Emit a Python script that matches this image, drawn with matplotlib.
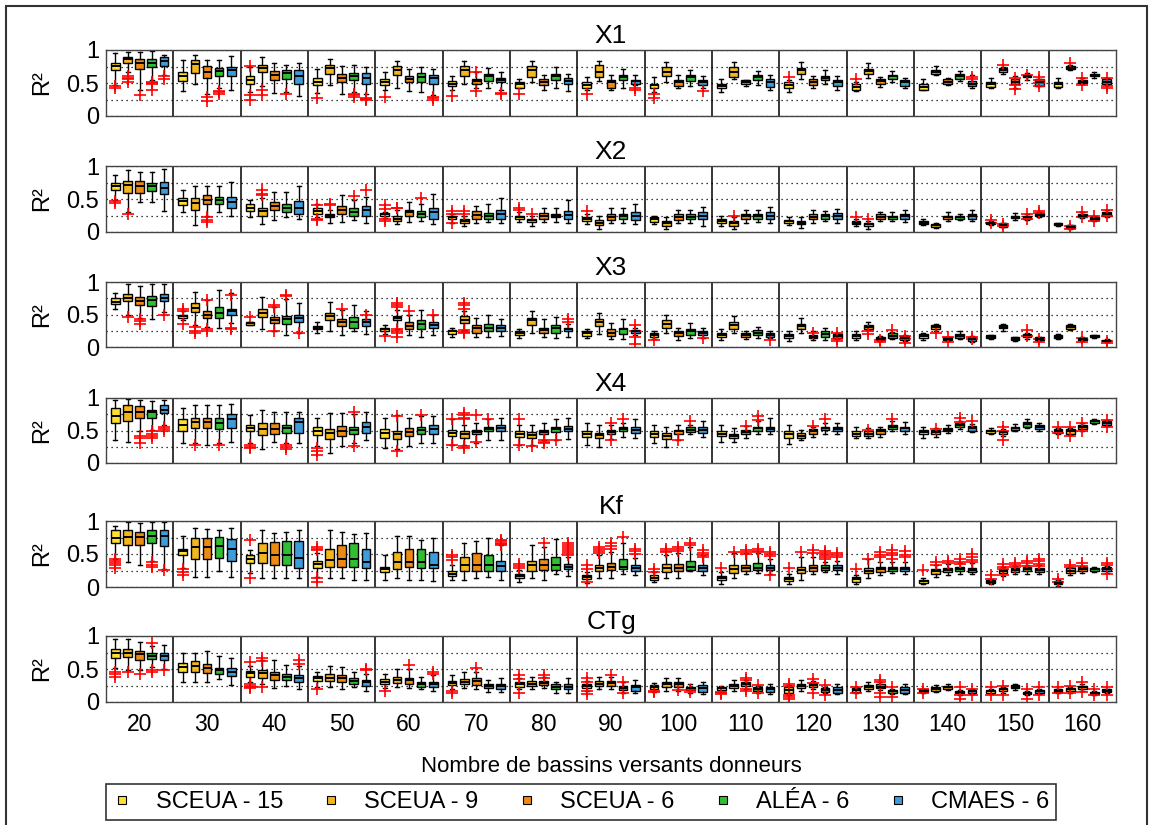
import matplotlib
matplotlib.use("Agg")
import matplotlib.pyplot as plt
from matplotlib.lines import Line2D
from matplotlib.patches import Rectangle

plt.rcParams['font.family'] = ['Liberation Sans', 'DejaVu Sans']

groups = [20, 30, 40, 50, 60, 70, 80, 90, 100, 110, 120, 130, 140, 150, 160]
methods = ['SCEUA - 15', 'SCEUA - 9', 'SCEUA - 6', 'ALÉA - 6', 'CMAES - 6']
colors = ['#FFE02E', '#F3B71E', '#EC8A14', '#30BF33', '#3F9CDA']
params = ['X1', 'X2', 'X3', 'X4', 'Kf', 'CTg']

# one row per group, one tuple per method: (whisker low, q1, median, q3, whisker high)
X1_boxes = [
    [(0.47,0.70,0.76,0.81,0.95), (0.67,0.81,0.86,0.90,0.97), (0.39,0.71,0.80,0.86,0.97), (0.55,0.75,0.81,0.86,0.99), (0.62,0.76,0.83,0.89,0.92)],
    [(0.38,0.53,0.60,0.66,0.85), (0.48,0.65,0.79,0.85,0.93), (0.33,0.57,0.67,0.76,0.85), (0.42,0.60,0.68,0.73,0.85), (0.39,0.60,0.69,0.75,0.91)],
    [(0.37,0.49,0.55,0.60,0.75), (0.45,0.66,0.72,0.78,0.89), (0.35,0.55,0.62,0.68,0.81), (0.37,0.56,0.65,0.69,0.78), (0.30,0.49,0.61,0.69,0.81)],
    [(0.35,0.47,0.52,0.57,0.71), (0.47,0.64,0.72,0.78,0.87), (0.34,0.52,0.58,0.64,0.76), (0.37,0.54,0.60,0.65,0.78), (0.34,0.49,0.58,0.65,0.74)],
    [(0.39,0.47,0.51,0.56,0.67), (0.42,0.62,0.70,0.76,0.84), (0.38,0.51,0.56,0.60,0.71), (0.36,0.52,0.59,0.65,0.75), (0.32,0.49,0.57,0.62,0.71)],
    [(0.39,0.45,0.49,0.53,0.61), (0.48,0.61,0.70,0.76,0.84), (0.42,0.48,0.53,0.56,0.67), (0.42,0.53,0.60,0.64,0.72), (0.40,0.51,0.55,0.58,0.67)],
    [(0.43,0.43,0.48,0.52,0.56), (0.51,0.59,0.70,0.76,0.83), (0.40,0.47,0.52,0.56,0.62), (0.42,0.55,0.60,0.64,0.75), (0.38,0.48,0.53,0.57,0.64)],
    [(0.39,0.43,0.47,0.51,0.59), (0.53,0.59,0.67,0.77,0.84), (0.40,0.43,0.51,0.55,0.62), (0.43,0.55,0.59,0.62,0.71), (0.47,0.49,0.53,0.55,0.62)],
    [(0.37,0.43,0.47,0.49,0.59), (0.52,0.60,0.67,0.75,0.82), (0.42,0.45,0.52,0.55,0.62), (0.45,0.53,0.59,0.62,0.70), (0.43,0.47,0.52,0.55,0.60)],
    [(0.37,0.43,0.46,0.49,0.56), (0.56,0.59,0.67,0.75,0.82), (0.45,0.48,0.51,0.54,0.55), (0.47,0.54,0.59,0.62,0.68), (0.39,0.44,0.52,0.56,0.62)],
    [(0.37,0.43,0.47,0.51,0.55), (0.56,0.64,0.69,0.73,0.82), (0.43,0.47,0.52,0.56,0.61), (0.49,0.55,0.57,0.60,0.70), (0.39,0.45,0.51,0.55,0.61)],
    [(0.38,0.40,0.44,0.48,0.52), (0.57,0.64,0.68,0.71,0.81), (0.44,0.48,0.53,0.56,0.59), (0.51,0.56,0.60,0.62,0.68), (0.42,0.45,0.51,0.54,0.58)],
    [(0.39,0.40,0.44,0.48,0.56), (0.62,0.64,0.67,0.70,0.76), (0.47,0.48,0.52,0.56,0.57), (0.53,0.56,0.60,0.63,0.68), (0.43,0.45,0.49,0.53,0.62)],
    [(0.42,0.44,0.48,0.52,0.57), (0.64,0.67,0.70,0.72,0.75), (0.43,0.48,0.52,0.56,0.60), (0.55,0.59,0.61,0.62,0.65), (0.45,0.45,0.51,0.56,0.56)],
    [(0.42,0.44,0.48,0.52,0.57), (0.69,0.71,0.73,0.76,0.77), (0.48,0.50,0.52,0.55,0.57), (0.57,0.60,0.62,0.64,0.66), (0.47,0.49,0.52,0.56,0.58)],
]
X2_boxes = [
    [(0.48,0.63,0.69,0.75,0.86), (0.30,0.59,0.71,0.77,0.94), (0.46,0.59,0.69,0.77,0.91), (0.46,0.62,0.69,0.74,0.91), (0.32,0.58,0.66,0.76,0.95)],
    [(0.31,0.41,0.47,0.52,0.63), (0.10,0.34,0.44,0.51,0.70), (0.25,0.42,0.49,0.56,0.69), (0.30,0.42,0.48,0.53,0.69), (0.25,0.37,0.46,0.53,0.76)],
    [(0.23,0.32,0.37,0.42,0.48), (0.12,0.25,0.32,0.36,0.51), (0.18,0.33,0.40,0.46,0.61), (0.23,0.30,0.37,0.42,0.61), (0.19,0.28,0.36,0.47,0.70)],
    [(0.23,0.28,0.32,0.36,0.43), (0.14,0.22,0.24,0.27,0.33), (0.15,0.28,0.34,0.39,0.56), (0.18,0.25,0.31,0.36,0.48), (0.14,0.25,0.33,0.40,0.53)],
    [(0.21,0.25,0.27,0.29,0.31), (0.12,0.17,0.20,0.24,0.34), (0.15,0.24,0.30,0.34,0.46), (0.17,0.23,0.28,0.32,0.42), (0.12,0.20,0.30,0.37,0.57)],
    [(0.14,0.20,0.23,0.24,0.28), (0.09,0.14,0.17,0.20,0.25), (0.14,0.20,0.26,0.32,0.39), (0.15,0.20,0.25,0.29,0.43), (0.14,0.20,0.28,0.34,0.52)],
    [(0.15,0.19,0.22,0.25,0.30), (0.09,0.15,0.18,0.20,0.25), (0.15,0.20,0.25,0.29,0.37), (0.15,0.22,0.25,0.28,0.37), (0.14,0.20,0.26,0.32,0.48)],
    [(0.12,0.16,0.19,0.23,0.28), (0.05,0.10,0.14,0.18,0.25), (0.14,0.18,0.23,0.28,0.36), (0.14,0.19,0.24,0.28,0.36), (0.12,0.18,0.24,0.30,0.42)],
    [(0.12,0.15,0.19,0.22,0.25), (0.05,0.09,0.13,0.17,0.23), (0.14,0.18,0.23,0.28,0.34), (0.14,0.19,0.23,0.27,0.34), (0.09,0.19,0.24,0.30,0.38)],
    [(0.09,0.14,0.17,0.19,0.25), (0.05,0.09,0.14,0.17,0.22), (0.14,0.19,0.24,0.28,0.33), (0.15,0.20,0.24,0.27,0.34), (0.13,0.19,0.25,0.30,0.38)],
    [(0.11,0.14,0.16,0.18,0.23), (0.06,0.12,0.14,0.17,0.22), (0.14,0.19,0.23,0.28,0.33), (0.17,0.20,0.24,0.27,0.32), (0.14,0.20,0.25,0.29,0.35)],
    [(0.09,0.12,0.14,0.16,0.20), (0.05,0.09,0.12,0.14,0.17), (0.16,0.19,0.23,0.27,0.30), (0.16,0.20,0.23,0.25,0.30), (0.15,0.20,0.25,0.28,0.34)],
    [(0.10,0.12,0.14,0.16,0.19), (0.06,0.08,0.10,0.12,0.14), (0.17,0.19,0.23,0.25,0.30), (0.18,0.20,0.23,0.25,0.28), (0.17,0.20,0.25,0.28,0.33)],
    [(0.11,0.12,0.13,0.15,0.16), (0.07,0.08,0.10,0.13,0.14), (0.18,0.21,0.23,0.25,0.29), (0.18,0.19,0.22,0.25,0.27), (0.22,0.24,0.26,0.29,0.31)],
    [(0.09,0.10,0.11,0.13,0.14), (0.05,0.06,0.08,0.10,0.11), (0.21,0.23,0.25,0.28,0.30), (0.17,0.18,0.20,0.22,0.24), (0.23,0.25,0.28,0.31,0.33)],
]
X3_boxes = [
    [(0.58,0.66,0.70,0.75,0.83), (0.49,0.71,0.76,0.81,0.97), (0.44,0.64,0.71,0.77,0.94), (0.43,0.63,0.72,0.79,0.97), (0.54,0.71,0.76,0.81,0.97)],
    [(0.41,0.44,0.47,0.49,0.55), (0.34,0.54,0.60,0.67,0.85), (0.31,0.44,0.50,0.55,0.72), (0.29,0.44,0.52,0.62,0.87), (0.37,0.49,0.55,0.59,0.83)],
    [(0.34,0.34,0.37,0.39,0.39), (0.27,0.46,0.53,0.58,0.77), (0.24,0.37,0.42,0.46,0.62), (0.19,0.35,0.43,0.48,0.74), (0.21,0.38,0.44,0.49,0.67)],
    [(0.22,0.27,0.30,0.33,0.39), (0.25,0.42,0.48,0.53,0.70), (0.19,0.32,0.38,0.43,0.57), (0.24,0.29,0.38,0.46,0.64), (0.20,0.32,0.38,0.43,0.55)],
    [(0.20,0.25,0.28,0.30,0.34), (0.27,0.41,0.44,0.48,0.57), (0.19,0.27,0.33,0.38,0.49), (0.15,0.27,0.35,0.42,0.57), (0.19,0.29,0.34,0.38,0.49)],
    [(0.15,0.20,0.24,0.26,0.30), (0.26,0.37,0.42,0.47,0.56), (0.16,0.22,0.29,0.34,0.44), (0.15,0.24,0.30,0.36,0.50), (0.17,0.24,0.30,0.34,0.43)],
    [(0.14,0.19,0.21,0.24,0.28), (0.22,0.34,0.41,0.44,0.56), (0.16,0.21,0.26,0.30,0.43), (0.14,0.22,0.30,0.34,0.46), (0.16,0.24,0.28,0.30,0.36)],
    [(0.14,0.17,0.21,0.24,0.28), (0.20,0.32,0.38,0.43,0.52), (0.12,0.17,0.22,0.27,0.37), (0.12,0.20,0.27,0.30,0.43), (0.18,0.21,0.24,0.26,0.30)],
    [(0.12,0.16,0.19,0.21,0.24), (0.21,0.29,0.36,0.41,0.49), (0.11,0.17,0.21,0.25,0.29), (0.14,0.19,0.24,0.27,0.37), (0.14,0.19,0.22,0.25,0.29)],
    [(0.11,0.16,0.19,0.22,0.27), (0.21,0.27,0.34,0.39,0.48), (0.12,0.15,0.18,0.21,0.25), (0.14,0.19,0.22,0.26,0.31), (0.14,0.16,0.19,0.22,0.25)],
    [(0.10,0.14,0.17,0.20,0.24), (0.21,0.28,0.32,0.36,0.44), (0.11,0.14,0.16,0.19,0.24), (0.11,0.16,0.20,0.24,0.29), (0.12,0.14,0.17,0.20,0.22)],
    [(0.11,0.14,0.17,0.20,0.24), (0.26,0.28,0.31,0.34,0.39), (0.09,0.11,0.13,0.15,0.17), (0.12,0.14,0.17,0.21,0.23), (0.09,0.11,0.14,0.17,0.19)],
    [(0.11,0.14,0.17,0.20,0.21), (0.24,0.27,0.31,0.34,0.36), (0.09,0.11,0.13,0.15,0.16), (0.12,0.14,0.17,0.20,0.24), (0.08,0.10,0.13,0.16,0.17)],
    [(0.13,0.14,0.16,0.18,0.19), (0.24,0.29,0.31,0.34,0.36), (0.10,0.11,0.13,0.15,0.16), (0.13,0.15,0.18,0.20,0.21), (0.09,0.11,0.13,0.15,0.16)],
    [(0.13,0.14,0.16,0.19,0.20), (0.26,0.28,0.31,0.34,0.35), (0.10,0.11,0.12,0.14,0.15), (0.14,0.15,0.17,0.18,0.19), (0.08,0.09,0.10,0.11,0.12)],
]
X4_boxes = [
    [(0.36,0.62,0.72,0.85,0.97), (0.33,0.65,0.79,0.89,0.98), (0.49,0.69,0.79,0.87,0.97), (0.51,0.70,0.78,0.82,0.96), (0.59,0.77,0.82,0.89,0.97)],
    [(0.31,0.50,0.59,0.68,0.84), (0.31,0.54,0.63,0.70,0.89), (0.28,0.54,0.63,0.70,0.89), (0.31,0.53,0.62,0.70,0.89), (0.33,0.54,0.67,0.75,0.91)],
    [(0.31,0.49,0.54,0.59,0.74), (0.22,0.43,0.53,0.62,0.82), (0.32,0.44,0.53,0.62,0.79), (0.31,0.46,0.54,0.59,0.79), (0.31,0.46,0.63,0.69,0.79)],
    [(0.26,0.43,0.50,0.55,0.69), (0.16,0.37,0.46,0.53,0.77), (0.26,0.41,0.49,0.57,0.77), (0.31,0.45,0.51,0.56,0.75), (0.36,0.46,0.56,0.63,0.78)],
    [(0.23,0.38,0.46,0.52,0.69), (0.21,0.37,0.44,0.49,0.74), (0.26,0.41,0.48,0.54,0.70), (0.31,0.45,0.51,0.55,0.72), (0.31,0.45,0.53,0.59,0.73)],
    [(0.28,0.41,0.46,0.51,0.67), (0.28,0.38,0.44,0.49,0.59), (0.31,0.44,0.48,0.51,0.62), (0.36,0.49,0.53,0.56,0.68), (0.36,0.49,0.54,0.59,0.69)],
    [(0.28,0.40,0.45,0.49,0.59), (0.28,0.38,0.43,0.47,0.59), (0.36,0.45,0.48,0.51,0.62), (0.36,0.48,0.52,0.55,0.67), (0.37,0.49,0.53,0.57,0.69)],
    [(0.28,0.40,0.45,0.49,0.62), (0.25,0.38,0.43,0.46,0.59), (0.37,0.44,0.48,0.51,0.58), (0.40,0.49,0.52,0.56,0.62), (0.38,0.46,0.51,0.56,0.67)],
    [(0.31,0.40,0.45,0.49,0.58), (0.25,0.37,0.42,0.46,0.56), (0.36,0.44,0.49,0.51,0.59), (0.44,0.48,0.51,0.55,0.59), (0.40,0.46,0.51,0.56,0.64)],
    [(0.32,0.41,0.45,0.49,0.58), (0.32,0.38,0.42,0.45,0.54), (0.38,0.45,0.48,0.51,0.57), (0.44,0.49,0.54,0.56,0.64), (0.44,0.49,0.53,0.56,0.69)],
    [(0.29,0.38,0.44,0.49,0.59), (0.36,0.38,0.42,0.46,0.51), (0.40,0.45,0.49,0.52,0.56), (0.45,0.51,0.54,0.56,0.62), (0.44,0.49,0.52,0.56,0.62)],
    [(0.38,0.42,0.45,0.49,0.56), (0.38,0.41,0.45,0.49,0.54), (0.40,0.45,0.49,0.52,0.56), (0.49,0.53,0.56,0.59,0.64), (0.45,0.50,0.54,0.56,0.63)],
    [(0.38,0.45,0.48,0.51,0.56), (0.40,0.44,0.47,0.51,0.54), (0.46,0.49,0.51,0.54,0.59), (0.52,0.55,0.58,0.62,0.64), (0.47,0.50,0.54,0.57,0.60)],
    [(0.44,0.46,0.49,0.51,0.54), (0.42,0.45,0.47,0.50,0.53), (0.49,0.51,0.54,0.56,0.60), (0.54,0.56,0.60,0.63,0.68), (0.50,0.53,0.56,0.59,0.61)],
    [(0.44,0.46,0.49,0.52,0.54), (0.43,0.45,0.49,0.52,0.54), (0.50,0.53,0.55,0.59,0.61), (0.60,0.62,0.64,0.66,0.67), (0.57,0.59,0.62,0.64,0.66)],
]
Kf_boxes = [
    [(0.42,0.66,0.75,0.86,0.93), (0.38,0.64,0.76,0.86,0.98), (0.33,0.64,0.76,0.84,0.97), (0.40,0.67,0.78,0.86,0.98), (0.28,0.62,0.77,0.86,0.98)],
    [(0.29,0.48,0.54,0.58,0.78), (0.15,0.43,0.61,0.75,0.89), (0.15,0.43,0.61,0.75,0.88), (0.24,0.44,0.62,0.76,0.87), (0.15,0.40,0.57,0.73,0.89)],
    [(0.21,0.36,0.43,0.48,0.56), (0.13,0.36,0.51,0.66,0.87), (0.13,0.34,0.49,0.68,0.82), (0.14,0.34,0.49,0.69,0.83), (0.14,0.29,0.44,0.69,0.87)],
    [(0.15,0.29,0.35,0.39,0.51), (0.13,0.30,0.41,0.58,0.86), (0.13,0.30,0.42,0.63,0.83), (0.11,0.30,0.43,0.66,0.81), (0.11,0.29,0.38,0.58,0.82)],
    [(0.11,0.23,0.28,0.31,0.48), (0.13,0.28,0.38,0.53,0.77), (0.11,0.30,0.38,0.57,0.77), (0.11,0.29,0.38,0.57,0.71), (0.09,0.29,0.34,0.53,0.75)],
    [(0.11,0.17,0.20,0.25,0.34), (0.11,0.24,0.33,0.45,0.66), (0.13,0.25,0.33,0.52,0.70), (0.15,0.25,0.33,0.49,0.75), (0.11,0.25,0.32,0.40,0.63)],
    [(0.08,0.14,0.17,0.20,0.26), (0.13,0.25,0.33,0.39,0.63), (0.11,0.26,0.33,0.42,0.61), (0.19,0.26,0.33,0.45,0.72), (0.16,0.28,0.31,0.35,0.46)],
    [(0.06,0.12,0.15,0.18,0.23), (0.13,0.24,0.29,0.33,0.49), (0.14,0.26,0.31,0.36,0.53), (0.19,0.28,0.31,0.43,0.66), (0.18,0.25,0.29,0.34,0.44)],
    [(0.08,0.11,0.14,0.18,0.23), (0.13,0.22,0.29,0.35,0.48), (0.14,0.24,0.29,0.35,0.51), (0.24,0.26,0.31,0.40,0.61), (0.18,0.25,0.29,0.34,0.48)],
    [(0.05,0.10,0.13,0.16,0.23), (0.14,0.21,0.28,0.33,0.52), (0.19,0.25,0.29,0.33,0.52), (0.21,0.26,0.29,0.36,0.51), (0.20,0.26,0.29,0.33,0.43)],
    [(0.05,0.09,0.12,0.15,0.20), (0.11,0.21,0.26,0.31,0.45), (0.19,0.24,0.29,0.33,0.45), (0.23,0.26,0.29,0.33,0.38), (0.20,0.26,0.29,0.33,0.40)],
    [(0.05,0.08,0.12,0.15,0.18), (0.14,0.21,0.25,0.29,0.43), (0.18,0.23,0.28,0.31,0.38), (0.21,0.25,0.28,0.30,0.38), (0.19,0.24,0.28,0.31,0.38)],
    [(0.04,0.06,0.09,0.11,0.13), (0.15,0.20,0.24,0.28,0.33), (0.18,0.23,0.26,0.29,0.35), (0.20,0.24,0.28,0.31,0.36), (0.19,0.23,0.26,0.29,0.36)],
    [(0.04,0.06,0.08,0.10,0.12), (0.17,0.21,0.24,0.28,0.31), (0.19,0.23,0.26,0.29,0.32), (0.20,0.24,0.28,0.31,0.34), (0.20,0.23,0.26,0.29,0.33)],
    [(0.02,0.04,0.06,0.09,0.10), (0.18,0.21,0.24,0.29,0.31), (0.21,0.24,0.27,0.30,0.32), (0.22,0.25,0.27,0.29,0.30), (0.21,0.24,0.27,0.30,0.32)],
]
CTg_boxes = [
    [(0.51,0.67,0.74,0.81,0.95), (0.49,0.68,0.74,0.81,0.95), (0.49,0.64,0.72,0.77,0.91), (0.53,0.65,0.70,0.74,0.85), (0.50,0.63,0.69,0.75,0.86)],
    [(0.31,0.46,0.53,0.59,0.75), (0.31,0.46,0.55,0.62,0.75), (0.31,0.44,0.51,0.58,0.78), (0.35,0.43,0.48,0.52,0.69), (0.26,0.39,0.46,0.51,0.67)],
    [(0.31,0.38,0.44,0.47,0.55), (0.28,0.37,0.44,0.49,0.64), (0.21,0.34,0.41,0.46,0.64), (0.24,0.33,0.38,0.43,0.56), (0.19,0.31,0.36,0.41,0.54)],
    [(0.23,0.32,0.36,0.39,0.46), (0.23,0.32,0.37,0.42,0.54), (0.19,0.30,0.36,0.41,0.53), (0.23,0.28,0.32,0.36,0.45), (0.17,0.24,0.30,0.34,0.43)],
    [(0.21,0.27,0.31,0.35,0.42), (0.22,0.29,0.34,0.38,0.50), (0.21,0.27,0.33,0.37,0.50), (0.19,0.23,0.27,0.31,0.38), (0.17,0.22,0.27,0.31,0.41)],
    [(0.19,0.26,0.29,0.32,0.41), (0.21,0.27,0.31,0.35,0.45), (0.19,0.26,0.32,0.36,0.46), (0.15,0.21,0.25,0.28,0.34), (0.15,0.19,0.25,0.28,0.36)],
    [(0.19,0.23,0.27,0.31,0.36), (0.19,0.24,0.28,0.32,0.38), (0.21,0.26,0.29,0.32,0.38), (0.13,0.19,0.23,0.27,0.31), (0.14,0.19,0.23,0.27,0.36)],
    [(0.17,0.21,0.25,0.28,0.32), (0.19,0.25,0.28,0.32,0.38), (0.19,0.25,0.29,0.32,0.38), (0.13,0.18,0.21,0.24,0.31), (0.13,0.17,0.22,0.26,0.34)],
    [(0.15,0.19,0.23,0.26,0.29), (0.17,0.23,0.27,0.31,0.36), (0.17,0.23,0.27,0.31,0.36), (0.13,0.18,0.21,0.23,0.27), (0.12,0.15,0.21,0.26,0.31)],
    [(0.15,0.18,0.21,0.23,0.25), (0.17,0.21,0.25,0.28,0.34), (0.19,0.24,0.27,0.31,0.33), (0.14,0.17,0.19,0.22,0.25), (0.12,0.15,0.19,0.23,0.27)],
    [(0.10,0.13,0.18,0.23,0.26), (0.17,0.21,0.24,0.27,0.33), (0.19,0.23,0.26,0.29,0.32), (0.13,0.15,0.18,0.21,0.23), (0.12,0.14,0.18,0.22,0.27)],
    [(0.13,0.15,0.18,0.21,0.23), (0.17,0.19,0.23,0.26,0.31), (0.18,0.21,0.23,0.27,0.30), (0.12,0.14,0.16,0.18,0.19), (0.12,0.14,0.18,0.22,0.27)],
    [(0.13,0.15,0.17,0.19,0.20), (0.15,0.17,0.19,0.22,0.26), (0.18,0.19,0.22,0.24,0.28), (0.11,0.13,0.15,0.17,0.18), (0.12,0.14,0.16,0.18,0.19)],
    [(0.12,0.14,0.16,0.18,0.19), (0.14,0.16,0.19,0.21,0.22), (0.18,0.21,0.23,0.26,0.28), (0.10,0.12,0.14,0.15,0.16), (0.12,0.14,0.16,0.18,0.19)],
    [(0.13,0.15,0.17,0.19,0.20), (0.14,0.16,0.19,0.21,0.22), (0.17,0.19,0.22,0.24,0.27), (0.10,0.12,0.14,0.15,0.16), (0.13,0.15,0.17,0.19,0.20)],
]

# outliers (red +), keyed by (group index, method index)
X1_fliers = {
    (0, 0): [0.45, 0.42], (0, 1): [0.60, 0.58, 0.56, 0.52], (0, 2): [0.32],
    (0, 3): [0.50, 0.52, 0.49, 0.40], (0, 4): [0.56, 0.60],
    (1, 2): [0.29, 0.22], (1, 3): [0.38, 0.36, 0.33],
    (2, 0): [0.76, 0.32, 0.24], (2, 1): [0.39, 0.32], (2, 3): [0.33],
    (3, 0): [0.28], (3, 3): [0.34, 0.32, 0.29], (3, 4): [0.28, 0.26, 0.24],
    (4, 0): [0.29], (4, 4): [0.29, 0.27, 0.25],
    (5, 0): [0.30], (5, 2): [0.67, 0.38], (5, 4): [0.35, 0.33],
    (6, 0): [0.33],
    (7, 0): [0.33], (7, 4): [0.42, 0.39],
    (8, 0): [0.33, 0.27], (8, 4): [0.38],
    (10, 0): [0.59], (11, 0): [0.56], (12, 4): [0.59, 0.56],
    (13, 1): [0.77], (13, 2): [0.57, 0.47, 0.41], (13, 3): [0.62], (13, 4): [0.59, 0.55, 0.50, 0.45],
    (14, 1): [0.80], (14, 2): [0.57, 0.47], (14, 4): [0.57, 0.46, 0.42],
}
X2_fliers = {
    (0, 0): [0.47, 0.44], (0, 1): [0.28],
    (1, 2): [0.23, 0.18, 0.15],
    (2, 1): [0.63, 0.58, 0.56],
    (3, 0): [0.41, 0.20, 0.18], (3, 1): [0.42, 0.41], (3, 3): [0.54], (3, 4): [0.64],
    (4, 0): [0.41, 0.35, 0.20, 0.17], (4, 1): [0.37, 0.36], (4, 3): [0.52],
    (5, 0): [0.32, 0.28, 0.14], (5, 1): [0.32, 0.28],
    (6, 0): [0.36, 0.33], (6, 1): [0.28],
    (7, 0): [0.32], (9, 1): [0.25], (11, 0): [0.23], (11, 1): [0.20],
    (13, 0): [0.18, 0.13], (13, 1): [0.12, 0.09], (13, 3): [0.27, 0.19], (13, 4): [0.32, 0.29],
    (14, 1): [0.09, 0.05], (14, 2): [0.31, 0.22], (14, 3): [0.25, 0.17], (14, 4): [0.34, 0.25],
}
X3_fliers = {
    (0, 1): [0.46], (0, 2): [0.43, 0.40, 0.35], (0, 4): [0.50],
    (1, 0): [0.59, 0.56, 0.36], (1, 1): [0.31, 0.25, 0.21], (1, 2): [0.73, 0.27, 0.25], (1, 4): [0.80, 0.29, 0.27],
    (2, 0): [0.46], (2, 2): [0.64, 0.62, 0.24], (2, 3): [0.80, 0.78], (2, 4): [0.21],
    (3, 2): [0.58], (3, 4): [0.49],
    (4, 0): [0.17], (4, 1): [0.68, 0.64, 0.61, 0.27, 0.25, 0.22, 0.15], (4, 2): [0.56], (4, 4): [0.49],
    (5, 1): [0.68, 0.64, 0.58, 0.26, 0.23, 0.21],
    (6, 4): [0.43, 0.39],
    (7, 4): [0.34, 0.25, 0.15, 0.05],
    (8, 0): [0.11], (8, 4): [0.14], (9, 4): [0.11],
    (10, 2): [0.22], (10, 4): [0.22, 0.12, 0.10],
    (11, 1): [0.24, 0.20], (11, 2): [0.11, 0.07], (11, 3): [0.26], (11, 4): [0.17, 0.12, 0.06],
    (12, 1): [0.21], (12, 2): [0.15, 0.08], (12, 4): [0.16, 0.12],
    (13, 3): [0.26, 0.17], (13, 4): [0.13, 0.08],
    (14, 2): [0.14, 0.08], (14, 4): [0.10, 0.06],
}
X4_fliers = {
    (0, 2): [0.41, 0.38, 0.31], (0, 3): [0.49, 0.45, 0.42, 0.38], (0, 4): [0.56, 0.53, 0.50],
    (1, 1): [0.27], (1, 3): [0.28],
    (2, 0): [0.28, 0.25, 0.23], (2, 3): [0.28, 0.25, 0.21],
    (3, 0): [0.23, 0.19, 0.13], (3, 3): [0.78, 0.26],
    (4, 1): [0.72, 0.18], (4, 3): [0.74],
    (5, 0): [0.67, 0.27], (5, 1): [0.77, 0.74, 0.70, 0.67, 0.26, 0.23], (5, 2): [0.74, 0.32], (5, 3): [0.67],
    (6, 0): [0.67, 0.27], (6, 1): [0.26], (6, 2): [0.35, 0.33, 0.31], (6, 3): [0.36],
    (7, 2): [0.62, 0.35], (7, 3): [0.68],
    (8, 2): [0.35], (8, 3): [0.64],
    (9, 2): [0.57], (9, 3): [0.72, 0.66],
    (10, 2): [0.57], (10, 3): [0.67],
    (11, 1): [0.51], (11, 3): [0.67],
    (12, 1): [0.52], (12, 3): [0.69, 0.63], (12, 4): [0.64],
    (13, 1): [0.56, 0.50, 0.36],
    (14, 0): [0.56, 0.46], (14, 1): [0.56, 0.41], (14, 2): [0.61, 0.50], (14, 4): [0.66, 0.56],
}
Kf_fliers = {
    (0, 0): [0.42, 0.39, 0.36, 0.33, 0.29], (0, 3): [0.38, 0.34, 0.30], (0, 4): [0.26],
    (1, 0): [0.28, 0.22, 0.18],
    (2, 0): [0.71, 0.13],
    (3, 0): [0.61, 0.58, 0.56, 0.13, 0.08],
    (5, 0): [0.49, 0.45, 0.41], (5, 4): [0.71, 0.69, 0.67, 0.65, 0.63],
    (6, 0): [0.35, 0.32, 0.29], (6, 2): [0.66], (6, 4): [0.66, 0.63, 0.60, 0.57, 0.54, 0.51, 0.48],
    (7, 0): [0.33, 0.28, 0.08], (7, 1): [0.61, 0.58, 0.55, 0.52], (7, 2): [0.66, 0.62, 0.58],
    (7, 3): [0.76], (7, 4): [0.58, 0.55, 0.50],
    (8, 0): [0.28, 0.23], (8, 1): [0.58, 0.55, 0.53], (8, 2): [0.61, 0.58, 0.55], (8, 3): [0.67, 0.63],
    (8, 4): [0.56, 0.52, 0.49, 0.46],
    (9, 0): [0.29], (9, 1): [0.53], (9, 2): [0.56, 0.53, 0.50], (9, 3): [0.58, 0.55, 0.53],
    (9, 4): [0.53, 0.50, 0.47, 0.18],
    (10, 0): [0.29], (10, 1): [0.53], (10, 2): [0.56, 0.52], (10, 3): [0.55, 0.52, 0.49, 0.45, 0.42],
    (10, 4): [0.52, 0.48, 0.45],
    (11, 0): [0.28], (11, 1): [0.43], (11, 2): [0.53, 0.49, 0.45], (11, 3): [0.56, 0.52, 0.48, 0.43],
    (11, 4): [0.54, 0.49, 0.45],
    (12, 0): [0.26], (12, 1): [0.38, 0.34], (12, 2): [0.40, 0.36], (12, 3): [0.43, 0.38, 0.35],
    (12, 4): [0.50, 0.45, 0.41, 0.38],
    (13, 0): [0.18, 0.12], (13, 1): [0.35, 0.31, 0.28, 0.18], (13, 2): [0.37, 0.33, 0.30],
    (13, 3): [0.40, 0.36, 0.32], (13, 4): [0.42, 0.39, 0.35, 0.32],
    (14, 0): [0.12, 0.07], (14, 1): [0.33, 0.30], (14, 2): [0.36, 0.32], (14, 4): [0.37, 0.33, 0.28, 0.20],
}
CTg_fliers = {
    (0, 0): [0.46, 0.42, 0.38], (0, 1): [0.46], (0, 2): [0.43], (0, 3): [0.90, 0.48, 0.46], (0, 4): [0.48],
    (2, 0): [0.60, 0.27, 0.25, 0.23, 0.21], (2, 1): [0.67, 0.62, 0.23], (2, 4): [0.64, 0.58],
    (3, 0): [0.19], (3, 4): [0.50, 0.48],
    (4, 0): [0.17], (4, 2): [0.56], (4, 4): [0.46, 0.43],
    (5, 0): [0.17, 0.13], (5, 2): [0.51],
    (6, 0): [0.41, 0.35, 0.13], (6, 2): [0.41, 0.36],
    (7, 0): [0.36, 0.31, 0.16, 0.12], (7, 2): [0.41], (7, 3): [0.31, 0.13],
    (8, 0): [0.16, 0.15], (8, 2): [0.18], (8, 3): [0.18, 0.15],
    (9, 0): [0.15, 0.13, 0.12], (9, 2): [0.37, 0.34, 0.20, 0.17], (9, 3): [0.26, 0.13],
    (10, 0): [0.27, 0.25, 0.10, 0.08, 0.05], (10, 2): [0.35, 0.29, 0.13], (10, 3): [0.26, 0.10],
    (11, 0): [0.23, 0.13], (11, 2): [0.34, 0.30, 0.14, 0.08], (11, 3): [0.23, 0.08],
    (12, 0): [0.20, 0.13], (12, 3): [0.23, 0.10, 0.05], (12, 4): [0.20, 0.10],
    (13, 0): [0.23, 0.10], (13, 1): [0.25, 0.10], (13, 3): [0.20, 0.05], (13, 4): [0.23, 0.10],
    (14, 0): [0.23, 0.13], (14, 1): [0.25, 0.13], (14, 2): [0.31, 0.15], (14, 3): [0.19, 0.10], (14, 4): [0.23, 0.10],
}

all_boxes = [X1_boxes, X2_boxes, X3_boxes, X4_boxes, Kf_boxes, CTg_boxes]
all_fliers = [X1_fliers, X2_fliers, X3_fliers, X4_fliers, Kf_fliers, CTg_fliers]

W, H = 1149, 825
fig = plt.figure(figsize=(W / 100, H / 100), dpi=100)

# pixel rows of the 6 panels (top, bottom)
rows_px = [(50, 116), (166, 232), (282, 347), (398, 463), (521, 587), (636, 702)]
left_px, right_px = 106, 1116
offsets = [-0.36, -0.18, 0.0, 0.18, 0.36]

for r, (name, boxes, fliers) in enumerate(zip(params, all_boxes, all_fliers)):
    top, bot = rows_px[r]
    ax = fig.add_axes([left_px / W, 1 - bot / H, (right_px - left_px) / W, (bot - top) / H])
    for m in range(5):
        stats = []
        pos = []
        for g in range(len(groups)):
            lo, q1, med, q3, hi = boxes[g][m]
            stats.append({'whislo': lo, 'q1': q1, 'med': med, 'q3': q3, 'whishi': hi,
                          'fliers': fliers.get((g, m), [])})
            pos.append(g + offsets[m])
        ax.bxp(stats, positions=pos, widths=0.13, patch_artist=True, capwidths=0.06,
               boxprops=dict(facecolor=colors[m], edgecolor='black', linewidth=1.0),
               medianprops=dict(color='black', linewidth=1.4),
               whiskerprops=dict(color='black', linewidth=1.0),
               capprops=dict(color='black', linewidth=1.0),
               flierprops=dict(marker='+', markeredgecolor='red', markersize=8, markeredgewidth=1.2))
    for g in range(len(groups) - 1):
        ax.axvline(g + 0.5, color='black', linewidth=1.1, zorder=1)
    ax.set_xlim(-0.5, len(groups) - 0.5)
    ax.set_ylim(0, 1)
    ax.set_yticks([0, 0.5, 1])
    ax.set_yticklabels(['0', '0.5', '1'], fontsize=17)
    ax.set_yticks([0.25, 0.75], minor=True)
    ax.yaxis.grid(True, which='both', linestyle=(0, (1, 3)), color='black', linewidth=0.9)
    ax.set_axisbelow(True)
    ax.tick_params(axis='both', which='both', length=0)
    ax.tick_params(axis='y', pad=5)
    ax.set_xticks(range(len(groups)))
    if r == len(params) - 1:
        ax.set_xticklabels([str(v) for v in groups], fontsize=16.5)
        ax.tick_params(axis='x', pad=8)
    else:
        ax.set_xticklabels([])
    for s in ax.spines.values():
        s.set_color('#444444')
        s.set_linewidth(1.0)
    ax.set_title(name, fontsize=19, pad=5)
    ax.set_ylabel('R²', fontsize=17)
    ax.yaxis.set_label_coords(-0.0525, 0.5)

fig.text(611 / W, 1 - 767 / H, 'Nombre de bassins versants donneurs', ha='center', va='center', fontsize=16)

handles = [Line2D([], [], marker='s', linestyle='none', markersize=6, markerfacecolor=c,
                  markeredgecolor='black', markeredgewidth=0.8) for c in colors]
leg = fig.legend(handles, methods, loc='center', bbox_to_anchor=(581 / W, 1 - 802 / H), ncol=5,
                 fontsize=17, frameon=True, fancybox=False, edgecolor='black',
                 handlelength=0.8, handletextpad=1.0, columnspacing=1.65, borderpad=0.3)
leg.get_frame().set_linewidth(1.2)

fig.add_artist(Rectangle((6 / W, -0.05), (1147 - 6) / W, 1.05 - 6 / H, transform=fig.transFigure,
                         fill=False, edgecolor='#333333', linewidth=1.5))

fig.savefig('out.png', dpi=100)
